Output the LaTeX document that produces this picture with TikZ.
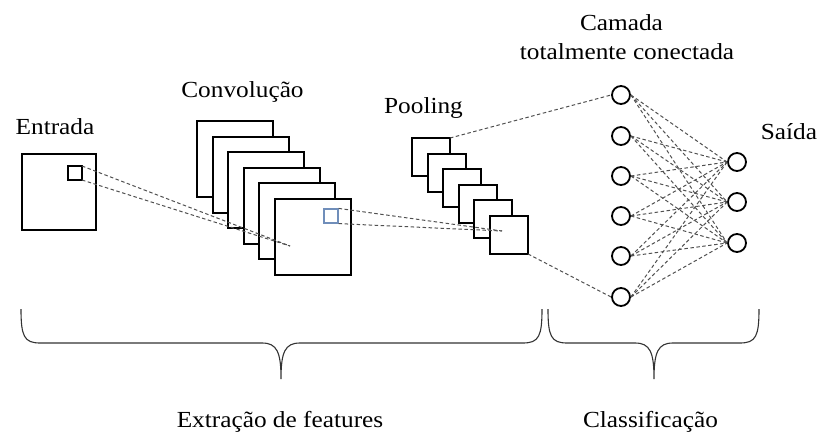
\documentclass[tikz,border=0pt]{standalone}
\usepackage{fontspec}
\setmainfont{Liberation Serif}[FakeStretch=1.1]
\definecolor{patchblue}{RGB}{112,142,186}
\definecolor{dashgray}{RGB}{80,80,80}
\begin{document}
\begin{tikzpicture}[x=1pt,y=-1pt,
    lbl/.style={anchor=base,inner sep=0pt,font=\fontsize{23}{29}\selectfont},
    sq/.style={draw,line width=2pt,fill=white,inner sep=0pt,outer sep=0pt},
    neuron/.style={draw,circle,line width=1.8pt,fill=white,minimum size=18pt,inner sep=0pt},
    link/.style={dashgray,line width=1pt,dash pattern=on 3.5pt off 2.5pt}]

    \useasboundingbox (0,0) rectangle (819,434);

    % entrada
    \node[lbl] (tin) at (55,134) {Entrada};
    \node[sq,minimum width=74pt,minimum height=76pt] (in) at (59,192) {};
    \node[sq,line width=1.2pt,minimum size=14pt] (ip) at (75,173) {};

    % convolucao
    \node[lbl] (tconv) at (242.5,97) {Convolução};
    \node[sq,minimum size=76pt] (c1) at (235,159) {};
    \node[sq,minimum size=76pt] (c2) at (251,175) {};
    \node[sq,minimum size=76pt] (c3) at (266,190) {};
    \node[sq,minimum size=76pt] (c4) at (282,206) {};
    \node[sq,minimum size=76pt] (c5) at (297,221) {};
    \node[sq,minimum size=76pt] (c6) at (313,237) {};
    \node[draw=patchblue,line width=1.2pt,inner sep=0pt,minimum size=14pt] (cp) at (331,216) {};
    \coordinate (cpt) at (290,246);

    % pooling
    \node[lbl] (tpool) at (423.5,113) {Pooling};
    \node[sq,minimum size=38pt] (p1) at (431,157) {};
    \node[sq,minimum size=38pt] (p2) at (447,173) {};
    \node[sq,minimum size=38pt] (p3) at (462,188) {};
    \node[sq,minimum size=38pt] (p4) at (478,204) {};
    \node[sq,minimum size=38pt] (p5) at (493,219) {};
    \node[sq,minimum size=38pt] (p6) at (509,235) {};
    \coordinate (ppt) at (502,231);

    \draw[link] (ip.north east) -- (cpt);
    \draw[link] (ip.south east) -- (cpt);
    \draw[link] (cp.north east) -- (ppt);
    \draw[link] (cp.south east) -- (ppt);

    % camada totalmente conectada
    \node[lbl] (tfc) at (621.5,30) {Camada};
    \node[lbl] (tfc2) at (627,59) {totalmente conectada};
    \node[lbl] (tout) at (789,139) {Saída};
    \node[neuron] (h1) at (621,95) {};
    \node[neuron] (h2) at (621,136) {};
    \node[neuron] (h3) at (621,176) {};
    \node[neuron] (h4) at (621,216) {};
    \node[neuron] (h5) at (621,256) {};
    \node[neuron] (h6) at (621,297) {};
    \node[neuron] (o1) at (737,162) {};
    \node[neuron] (o2) at (737,202) {};
    \node[neuron] (o3) at (737,243) {};

    \draw[link] (p1.north east) -- (h1.west);
    \draw[link] (p6.south east) -- (h6.west);
    \foreach \i in {1,...,6}
      \foreach \j in {1,2,3}
        \draw[link] (h\i.east) -- (o\j.west);

    % chaves
    \draw[line width=1.1pt,black!80] (21,309) .. controls (21,336) and (24,343) .. (40,343)
      -- (262,343) .. controls (277,343) and (281,352) .. (281,379)
      .. controls (281,352) and (285,343) .. (300,343)
      -- (523,343) .. controls (539,343) and (542,336) .. (542,309);
    \draw[line width=1.1pt,black!80] (548,309) .. controls (548,336) and (551,343) .. (567,343)
      -- (635,343) .. controls (650,343) and (654,352) .. (654,379)
      .. controls (654,352) and (658,343) .. (673,343)
      -- (740,343) .. controls (756,343) and (759,336) .. (759,309);

    \node[lbl] (tfeat) at (280,427) {Extração de features};
    \node[lbl] (tclass) at (650.5,427) {Classificação};
\end{tikzpicture}
\end{document}
